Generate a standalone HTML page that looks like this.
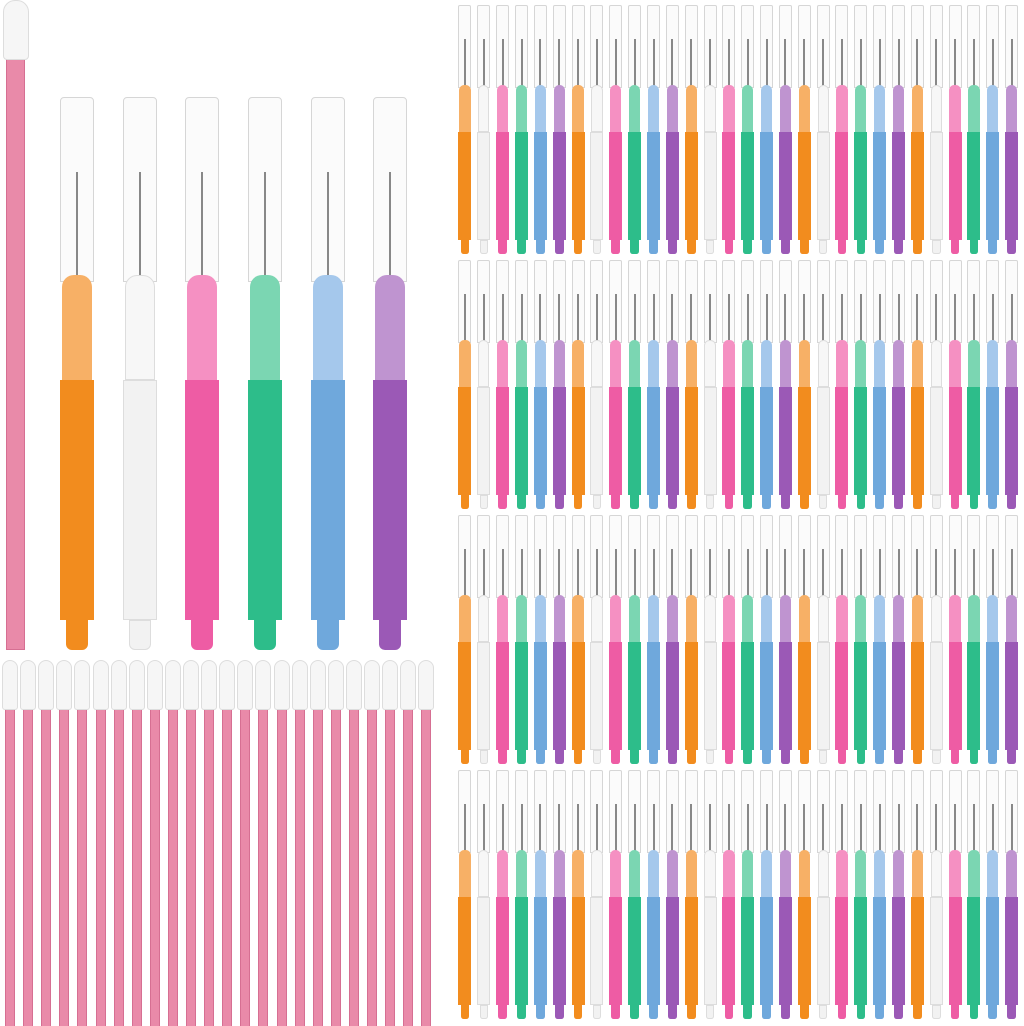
<!DOCTYPE html>
<html><head><meta charset="utf-8"><style>
html,body{margin:0;padding:0;background:#fff;}
#c{position:relative;width:1024px;height:1026px;overflow:hidden;background:#fff;}
#c div{position:absolute;box-sizing:border-box;}
</style></head><body><div id="c"></div>
<script>
var c=document.getElementById('c');
function r(x,y,w,h,bg,extra){var d=document.createElement('div');d.style.cssText='left:'+x+'px;top:'+y+'px;width:'+w+'px;height:'+h+'px;background:'+bg+';'+(extra||'');c.appendChild(d);}
var cols=['#f28c1e','#f2f2f2','#ee5ca4','#2dbd8a','#6fa8dc','#9b59b6'];
var tips=['#f7b066','#f7f7f7','#f590c2','#7bd6b2','#a5c8ec','#bf94d0'];
function brush(x,y,s,i,ws){
 var w=34*s*(ws||1),H=553*s;
 r(x-w/2,y,w,185*s,'#fbfbfb','border:1px solid #d6d6d6;border-radius:'+(4*s)+'px '+(4*s)+'px 0 0;');
 r(x-1,y+75*s,2,110*s,'#888');
 r(x-w/2+2*s,y+178*s,w-4*s,105*s,tips[i],'border-radius:'+(12*s)+'px '+(12*s)+'px 0 0;'+(i==1?'border:1px solid #ddd;':''));
 r(x-w/2,y+283*s,w,240*s,cols[i],(i==1?'border:1px solid #ddd;':''));
 r(x-w/3,y+523*s,w*2/3,30*s,cols[i],'border-radius:0 0 '+(6*s)+'px '+(6*s)+'px;'+(i==1?'border:1px solid #ddd;':''));
}
r(6,50,19,600,'#e98aa9','border:1px solid #d66f92;');
r(3,0,26,60,'#f6f6f6','border:1px solid #ddd;border-radius:12px 12px 4px 4px;');
var bx=[77,140,202,265,328,390];
for(var i=0;i<6;i++)brush(bx[i],97,1,i);
for(var k=0;k<24;k++){var x=2+k*18.1;
 r(x+3,705,10,330,'#e98aa9','border-left:1px solid #d66f92;border-right:1px solid #d66f92;');
 r(x,660,16,50,'#f6f6f6','border:1px solid #ddd;border-radius:8px 8px 3px 3px;');}
for(var row=0;row<4;row++){var y=5+row*255;
 for(var k=0;k<30;k++){brush(465+k*18.85,y,0.45,k%6,0.85);}}
</script></body></html>
